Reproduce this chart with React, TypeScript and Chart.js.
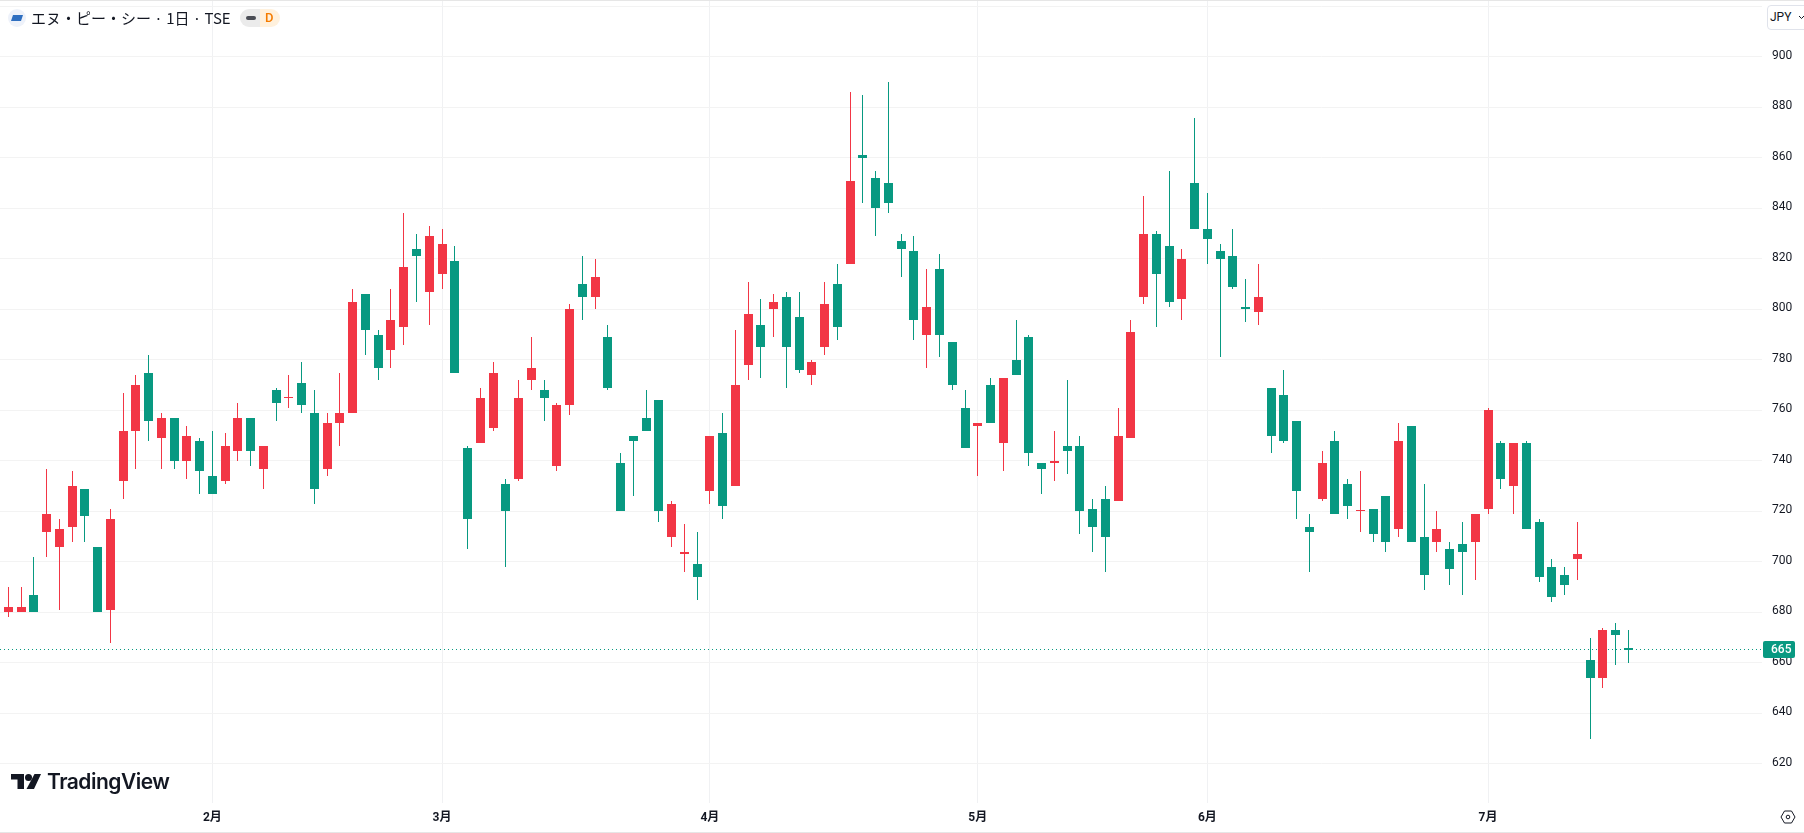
import React, { useEffect, useRef } from "react";
import { Chart, registerables } from "chart.js";

Chart.register(...registerables);

const opens = [680,680,687,712,706,714,729,706,681,732,752,775,749,757,740,748,734,732,744,757,737,768,765,771,759,737,755,759,806,790,784,793,824,807,814,819,745,747,753,731,733,772,768,738,762,810,805,789,739,750,757,764,710,703,699,728,751,730,778,794,800,805,797,774,785,810,818,861,852,850,827,823,790,816,787,761,754,770,747,780,789,739,739,746,746,721,725,724,749,805,830,825,804,850,832,823,821,801,799,769,766,756,714,725,748,731,720,721,726,713,754,710,708,705,707,708,721,747,730,747,716,698,695,701,661,654,673,666];
const closes = [682,682,680,719,713,730,718,680,717,752,770,756,757,740,750,736,727,746,757,744,746,763,765,762,729,755,759,803,792,777,796,817,821,829,826,775,717,765,775,720,765,777,765,762,800,805,813,769,720,748,752,720,723,704,694,750,722,770,798,785,803,785,776,779,802,793,851,860,840,842,824,796,801,790,770,745,755,755,773,774,743,737,740,744,720,714,710,750,791,830,814,803,820,832,828,820,809,800,805,750,748,728,712,739,719,722,720,711,708,748,708,695,713,697,704,719,760,733,747,713,694,686,691,703,654,673,671,665];
const highs = [690,690,702,737,717,736,729,706,721,767,774,782,759,757,754,749,752,751,763,757,746,769,774,779,768,759,775,808,806,792,808,838,830,833,832,825,746,769,779,733,772,789,772,763,802,821,820,794,743,750,768,764,724,715,712,750,759,792,811,804,806,807,807,780,811,818,886,885,855,890,830,829,816,822,787,768,755,773,773,796,790,739,752,772,750,725,730,761,796,845,831,855,824,876,846,826,832,812,818,769,776,756,719,744,752,733,736,721,726,755,754,731,720,708,716,719,761,748,747,748,717,701,698,716,670,674,676,673];
const lows = [678,680,680,702,681,708,708,680,668,725,737,748,737,737,733,727,727,731,740,738,729,756,761,759,723,734,746,759,782,772,777,786,803,794,808,775,705,747,752,698,732,768,756,736,758,796,800,768,720,726,752,716,706,696,685,723,717,730,772,773,789,769,775,770,782,788,818,842,829,838,813,788,777,781,768,745,734,755,736,774,738,727,732,735,711,704,696,724,749,802,793,801,796,832,818,781,808,795,794,743,747,717,696,724,719,717,712,708,704,710,708,689,704,691,687,693,719,729,719,713,692,684,687,693,630,650,659,660];
const monthLabels = ["2月","3月","4月","5月","6月","7月"];
const monthStarts = [16,34,55,76,94,116];
const lastPrice = 665;
const hiddenTick = 920;

const UP = "#F23645";
const DOWN = "#089981";
const TEXT = "#131722";
const FONT = "Roboto, 'Noto Sans CJK JP', sans-serif";

const snapPlugin = {
  id: "snap",
  beforeDatasetsDraw(chart: any) {
    chart.data.datasets.forEach((ds: any, i: number) => {
      const meta = chart.getDatasetMeta(i);
      meta.data.forEach((el: any) => {
        if (ds.type === "line") {
          el.x = Math.round(el.x);
          el.y = Math.floor(el.y) + 0.5;
        } else {
          el.x = Math.floor(el.x) + 0.5;
          el.y = Math.round(el.y + 0.4);
          el.base = Math.round(el.base + 0.4);
          if (el.y === el.base) el.base = el.y + 1;
        }
      });
    });
  },
  beforeDraw(chart: any) {
    const s = chart.scales.y;
    if (!s.__shifted) {
      s.__shifted = true;
      const orig = s.drawLabels.bind(s);
      s.drawLabels = (a: any) => {
        chart.ctx.save();
        chart.ctx.translate(0, -1);
        orig(a);
        chart.ctx.restore();
      };
    }
  },
  afterDraw(chart: any) {
    const { ctx, scales } = chart;
    const y = Math.floor(scales.y.getPixelForValue(lastPrice));
    ctx.save();
    ctx.fillStyle = DOWN;
    ctx.beginPath();
    ctx.roundRect(1763, y - 8, 32, 17, 2);
    ctx.fill();
    ctx.fillStyle = "#ffffff";
    ctx.font = `500 12px ${FONT}`;
    ctx.textBaseline = "middle";
    ctx.textAlign = "left";
    ctx.fillText(String(lastPrice), 1771, y + 1);
    ctx.restore();
  },
};

export default function App() {
  const ref = useRef<HTMLCanvasElement | null>(null);
  useEffect(() => {
    const idx = opens.map((_, i) => i);
    const colors = idx.map((i) => (closes[i] >= opens[i] ? UP : DOWN));
    const chart = new Chart(ref.current as any, {
      type: "bar",
      data: {
        datasets: [
          {
            type: "bar",
            label: "body",
            data: idx.map((i) => ({ x: i, y: [opens[i], closes[i]] })),
            backgroundColor: colors,
            barThickness: 9,
            minBarLength: 1,
            grouped: false,
            inflateAmount: 0,
            order: 0,
          },
          {
            type: "bar",
            label: "wick",
            data: idx.map((i) => ({ x: i, y: [lows[i], highs[i]] })),
            backgroundColor: colors,
            barThickness: 1,
            grouped: false,
            inflateAmount: 0,
            order: 1,
          },
          {
            type: "line",
            label: "last",
            data: [
              { x: -1, y: lastPrice },
              { x: 138, y: lastPrice },
            ],
            borderColor: DOWN,
            borderWidth: 1,
            borderDash: [1, 3],
            pointRadius: 0,
            order: 2,
          },
        ] as any,
      },
      options: {
        animation: false,
        responsive: false,
        events: [],
        layout: { padding: { top: 1, left: 0, right: 0, bottom: 0 } },
        plugins: { legend: { display: false }, tooltip: { enabled: false } },
        scales: {
          x: {
            type: "linear",
            offset: false,
            min: -0.651,
            max: 137.48,
            grid: { color: "#f0f1f3", offset: false, drawTicks: false },
            border: { display: false },
            afterBuildTicks: (s: any) => {
              s.ticks = monthStarts.map((value) => ({ value }));
            },
            afterFit: (s: any) => {
              s.height = 30;
              s.paddingLeft = 0;
              s.paddingRight = 0;
            },
            ticks: {
              autoSkip: false,
              maxRotation: 0,
              minRotation: 0,
              includeBounds: false,
              padding: 8,
              color: TEXT,
              font: { family: FONT, size: 12, weight: "bold" },
              callback: (v: any) => monthLabels[monthStarts.indexOf(v)] ?? "",
            },
          },
          y: {
            type: "linear",
            position: "right",
            min: 604.36,
            max: 922,
            grid: { color: "#f3f3f3", drawTicks: false },
            border: { display: false },
            afterFit: (s: any) => {
              s.width = 42;
              s.paddingTop = 0;
              s.paddingBottom = 0;
            },
            ticks: {
              stepSize: 20,
              includeBounds: false,
              autoSkip: false,
              padding: 10,
              color: TEXT,
              font: { family: FONT, size: 12 },
              callback: (v: any) => (v === hiddenTick ? "" : String(v)),
            },
          },
        },
      } as any,
      plugins: [snapPlugin] as any,
    });
    return () => chart.destroy();
  }, []);

  return (
    <div style={{ position: "fixed", left: 0, top: 0, width: 1804, height: 833, overflow: "hidden", background: "#fff", fontFamily: FONT, color: TEXT }}>
      <canvas ref={ref} width={1804} height={833} style={{ display: "block", width: 1804, height: 833 }} />
      <div style={{ position: "absolute", left: 0, top: 0, width: 1804, height: 1, background: "#e6e6e6" }} />
      <div style={{ position: "absolute", left: 0, top: 832, width: 1804, height: 1, background: "#e6e6e6" }} />

      <svg style={{ position: "absolute", left: 8, top: 9 }} width={18} height={18} viewBox="0 0 18 18">
        <circle cx={9} cy={9} r={9} fill="#eef2fa" />
        <polygon points="5,6 15,6 13,12 3,12" fill="#2f6fc0" />
      </svg>
      <div style={{ position: "absolute", left: 31, top: 8, height: 20, lineHeight: "20px", fontSize: 15, fontFamily: "'Noto Sans CJK JP', sans-serif", whiteSpace: "nowrap" }}>
        エヌ・ピー・シー · 1日 · TSE
      </div>
      <div style={{ position: "absolute", left: 240, top: 9, width: 20, height: 18, background: "#ebebeb", borderRadius: "9px 0 0 9px" }}>
        <div style={{ position: "absolute", left: 6, top: 7, width: 10, height: 4, borderRadius: 2, background: "#4a4d55" }} />
      </div>
      <div style={{ position: "absolute", left: 260, top: 9, width: 20, height: 18, lineHeight: "18px", background: "#fff1dd", borderRadius: "0 9px 9px 0", color: "#f57c00", fontSize: 13, fontWeight: 500, textAlign: "left", paddingLeft: 5, boxSizing: "border-box" }}>
        D
      </div>

      <div style={{ position: "absolute", left: 1767, top: 5, width: 50, height: 25, boxSizing: "border-box", border: "1px solid #e0e3eb", borderRadius: 4, background: "#fff" }} />
      <div style={{ position: "absolute", left: 1770, top: 8, height: 18, lineHeight: "18px", fontSize: 12 }}>JPY</div>
      <svg style={{ position: "absolute", left: 1798, top: 14 }} width={6} height={6} viewBox="0 0 6 6">
        <path d="M1 2 L3.5 4.5 L6 2" stroke={TEXT} strokeWidth={1} fill="none" />
      </svg>

      <svg style={{ position: "absolute", left: 1780, top: 809 }} width={16} height={16} viewBox="0 0 16 16">
        <polygon points="1,8 4.5,2 11.5,2 15,8 11.5,14 4.5,14" stroke={TEXT} strokeWidth={1} fill="none" />
        <circle cx={8} cy={8} r={1.8} stroke={TEXT} strokeWidth={1} fill="none" />
      </svg>

      <svg style={{ position: "absolute", left: 11, top: 774 }} width={30} height={15} viewBox="0 0 30 15">
        <path d="M0 0H13V15H6.5V5.5H0Z" fill={TEXT} />
        <circle cx={17.5} cy={3.5} r={3.5} fill={TEXT} />
        <polygon points="23.5,0 30,0 23,15 15.5,15" fill={TEXT} />
      </svg>
      <div style={{ position: "absolute", left: 47, top: 768, height: 28, lineHeight: "28px", fontSize: 21, fontWeight: 600, fontFamily: "Inter, sans-serif", letterSpacing: -0.5, whiteSpace: "nowrap" }}>
        TradingView
      </div>
    </div>
  );
}
